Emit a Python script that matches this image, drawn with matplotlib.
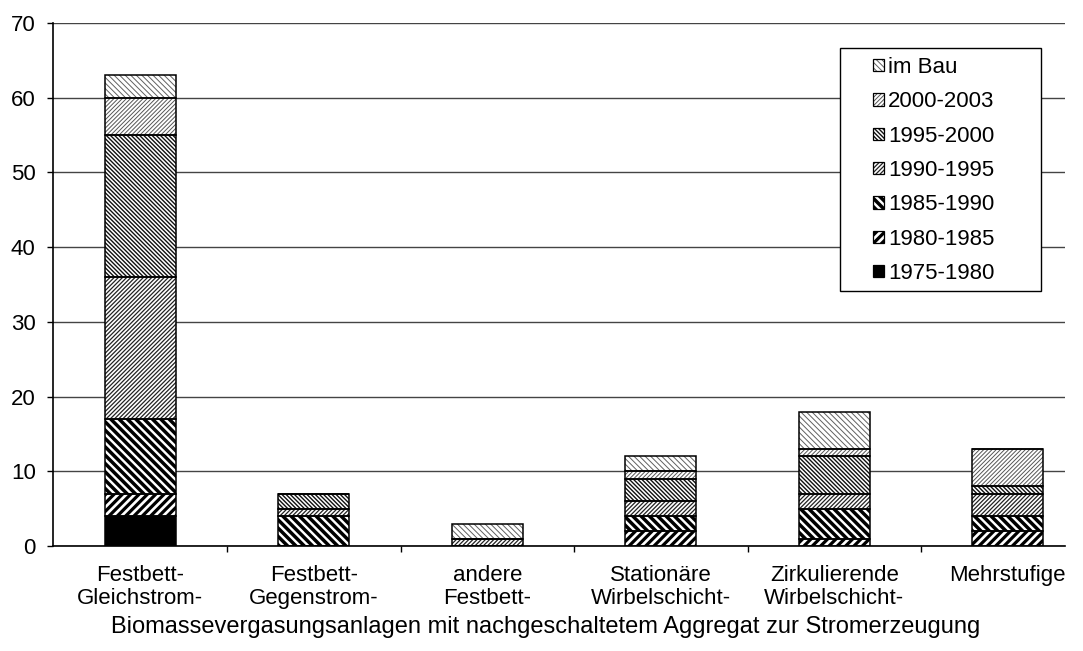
import matplotlib
matplotlib.use("Agg")
import matplotlib.pyplot as plt
from matplotlib.patches import Patch, Rectangle
from matplotlib.legend_handler import HandlerBase
import numpy as np

plt.rcParams['font.family'] = ['Liberation Sans', 'DejaVu Sans']

categories = ["Festbett-\nGleichstrom-", "Festbett-\nGegenstrom-", "andere\nFestbett-",
              "Stationäre\nWirbelschicht-", "Zirkulierende\nWirbelschicht-", "Mehrstufige"]
periods = ["1975-1980", "1980-1985", "1985-1990", "1990-1995", "1995-2000", "2000-2003", "im Bau"]

v_1975_1980 = [4, 0, 0, 0, 0, 0]
v_1980_1985 = [3, 0, 0, 2, 1, 2]
v_1985_1990 = [10, 4, 0, 2, 4, 2]
v_1990_1995 = [19, 1, 1, 2, 2, 3]
v_1995_2000 = [19, 2, 0, 3, 5, 1]
v_2000_2003 = [5, 0, 0, 1, 1, 5]
v_im_bau = [3, 0, 2, 2, 5, 0]
series = [v_1975_1980, v_1980_1985, v_1985_1990, v_1990_1995, v_1995_2000, v_2000_2003, v_im_bau]

yticks = [0, 10, 20, 30, 40, 50, 60, 70]
xlabel = "Biomassevergasungsanlagen mit nachgeschaltetem Aggregat zur Stromerzeugung"

# fill styles per period: (face, hatch, hatch colour, hatch linewidth)
styles = [
    ("black", None, "black", 1.0),
    ("white", "////", "black", 2.3),
    ("white", "\\\\\\\\", "black", 2.5),
    ("white", "////////", "#222222", 0.9),
    ("white", "\\\\\\\\\\\\\\\\", "#111111", 1.0),
    ("white", "////////", "#555555", 0.7),
    ("white", "\\\\\\\\\\\\", "#606060", 0.7),
]

FS = 16
W, H = 1083, 651
fig = plt.figure(figsize=(W / 100, H / 100), dpi=100)
ax = fig.add_axes([53 / W, 1 - 546 / H, (1065 - 53) / W, (546 - 23) / H])


def hatched_rect(xy, w, h, style, **kw):
    face, hatch, hcol, hlw = style
    with plt.rc_context({'hatch.linewidth': hlw, 'hatch.color': hcol}):
        r = Rectangle(xy, w, h, facecolor=face, hatch=hatch, edgecolor=hcol,
                      linewidth=0, **kw)
    if hasattr(r, "set_hatch_linewidth"):
        r.set_hatch_linewidth(hlw)
    return r


class HatchHandler(HandlerBase):
    def create_artists(self, legend, orig_handle, xdescent, ydescent,
                       width, height, fontsize, trans):
        r1 = hatched_rect((-xdescent, -ydescent), width, height, orig_handle.style,
                          transform=trans)
        r2 = Rectangle((-xdescent, -ydescent), width, height, fill=False,
                       edgecolor="black", linewidth=0.9, transform=trans)
        return [r1, r2]


x = np.arange(len(categories))
bw = 0.41
bottom = np.zeros(len(categories))
handles = []
for vals, st in zip(series, styles):
    vals = np.array(vals, dtype=float)
    face, hatch, hcol, hlw = st
    with plt.rc_context({'hatch.linewidth': hlw, 'hatch.color': hcol}):
        bars = ax.bar(x, vals, bw, bottom=bottom, color=face, hatch=hatch,
                      edgecolor=hcol, linewidth=0, zorder=3)
    for b in bars:
        if hasattr(b, "set_hatch_linewidth"):
            b.set_hatch_linewidth(hlw)
    # outline of each segment
    ax.bar(x, vals, bw, bottom=bottom, fill=False, edgecolor="black",
           linewidth=1.1, zorder=4)
    h = Patch()
    h.style = st
    handles.append(h)
    bottom += vals

ax.set_ylim(0, 70)
ax.set_xlim(-0.504, 5.33)
ax.set_yticks(yticks)
ax.set_yticklabels([str(t) for t in yticks], fontsize=FS)
ax.yaxis.grid(True, color="#444444", linewidth=1.0, zorder=0)
ax.set_axisbelow(True)

ax.set_xticks(np.arange(0.5, 5.0, 1.0))
ax.set_xticklabels([])
ax.set_xticks(x, minor=True)
ax.set_xticklabels(categories, minor=True, fontsize=FS, linespacing=1.12)
ax.tick_params(axis="x", which="minor", length=0, pad=14)
ax.tick_params(axis="x", which="major", length=4.5, width=1.0, color="black", direction="out")
ax.tick_params(axis="y", length=4.5, width=1.0, direction="out", pad=8)

for s in ["top", "right"]:
    ax.spines[s].set_visible(False)
for s in ["left", "bottom"]:
    ax.spines[s].set_color("black")
    ax.spines[s].set_linewidth(1.2)

fig.text(546 / W, 1 - 627 / H, xlabel, ha="center", va="center", fontsize=17)

# legend box
frame = Rectangle((840 / W, 1 - 291 / H), (1041 - 840) / W, (291 - 48) / H,
                  transform=fig.transFigure, facecolor="white", edgecolor="black",
                  linewidth=1.0, zorder=5)
ax.add_artist(frame)
frame.set_clip_on(False)

leg = ax.legend(handles[::-1], periods[::-1], loc="upper left",
                bbox_to_anchor=(873 / W, 1 - 57 / H), bbox_transform=fig.transFigure,
                fontsize=FS, frameon=False, handler_map={Patch: HatchHandler()},
                handlelength=0.48, handleheight=0.48, handletextpad=0.2,
                labelspacing=0.6, borderpad=0, borderaxespad=0)
leg.set_zorder(6)

fig.savefig("out.png", dpi=100)
